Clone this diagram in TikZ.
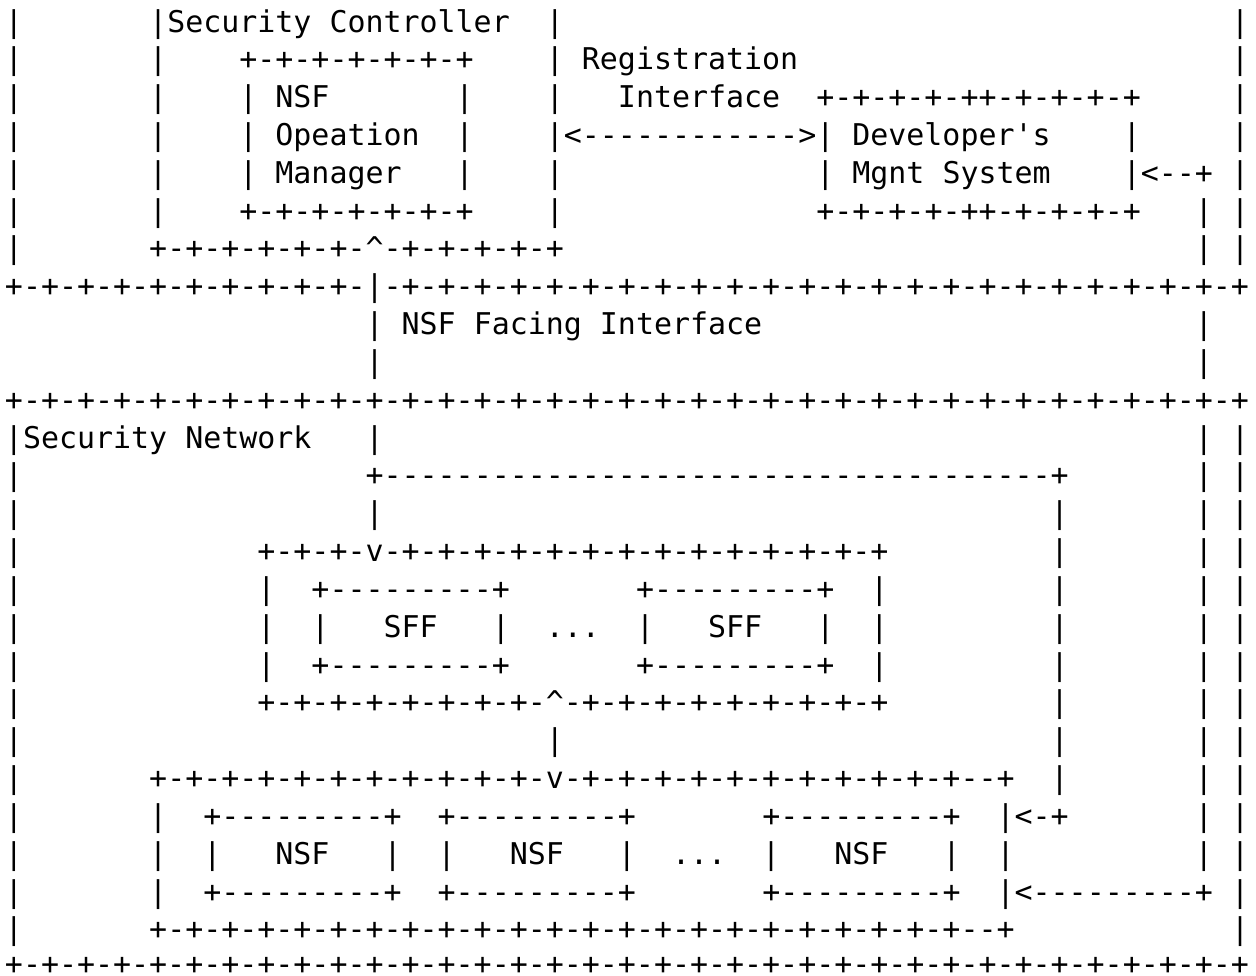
\documentclass[tikz,border=0pt]{standalone}
\usepackage{fontspec}
\setmonofont{DejaVu Sans Mono}
\ExplSyntaxOn
\cs_new_eq:NN \reptok \prg_replicate:nn
\ExplSyntaxOff
% blank run of #1 character cells
\newcommand\sk[1]{\kern#1\fontcharwd\font`M\relax}
\tikzset{
  asciirow/.style={anchor=base west, inner sep=0pt, outer sep=0pt, text=black,
    font=\ttfamily\fontsize{14.974pt}{18.915pt}\selectfont\frenchspacing},
}
\begin{document}
\begin{tikzpicture}
\fill[white] (0,0) rectangle (628pt,-487.5pt);
\useasboundingbox (0,0) rectangle (628pt,-487.5pt);
% one node per text line of the figure, baselines 18.915pt apart
\node[asciirow] (r1)  at (2.49pt,-16.000pt) {|\sk{7}|Security Controller\sk{2}|\sk{37}|};
\node[asciirow] (r2)  at (2.49pt,-34.915pt) {|\sk{7}|\sk{4}+-+-+-+-+-+-+\sk{4}|\sk{1}Registration\sk{24}|};
\node[asciirow] (r3)  at (2.49pt,-53.830pt) {|\sk{7}|\sk{4}|\sk{1}NSF\sk{7}|\sk{4}|\sk{3}Interface\sk{2}+-+-+-+-++-+-+-+-+\sk{5}|};
\node[asciirow] (r4)  at (2.49pt,-72.745pt) {|\sk{7}|\sk{4}|\sk{1}Opeation\sk{2}|\sk{4}|<\reptok{12}{-}>|\sk{1}Developer's\sk{4}|\sk{5}|};
\node[asciirow] (r5)  at (2.49pt,-91.660pt) {|\sk{7}|\sk{4}|\sk{1}Manager\sk{3}|\sk{4}|\sk{14}|\sk{1}Mgnt System\sk{4}|<\reptok{2}{-}+\sk{1}|};
\node[asciirow] (r6)  at (2.49pt,-110.575pt) {|\sk{7}|\sk{4}+-+-+-+-+-+-+\sk{4}|\sk{14}+-+-+-+-++-+-+-+-+\sk{3}|\sk{1}|};
\node[asciirow] (r7)  at (2.49pt,-129.490pt) {|\sk{7}\reptok{6}{+-}\textasciicircum\reptok{5}{-+}\sk{35}|\sk{1}|};
\node[asciirow] (r8)  at (2.49pt,-148.405pt) {\reptok{10}{+-}|\reptok{24}{-+}};
\node[asciirow] (r9)  at (2.49pt,-167.320pt) {\sk{20}|\sk{1}NSF Facing Interface\sk{24}|};
\node[asciirow] (r10) at (2.49pt,-186.235pt) {\sk{20}|\sk{45}|};
\node[asciirow] (r11) at (2.49pt,-205.150pt) {\reptok{34}{+-}+};
\node[asciirow] (r12) at (2.49pt,-224.065pt) {|Security Network\sk{3}|\sk{45}|\sk{1}|};
\node[asciirow] (r13) at (2.49pt,-242.980pt) {|\sk{19}+\reptok{37}{-}+\sk{7}|\sk{1}|};
\node[asciirow] (r14) at (2.49pt,-261.895pt) {|\sk{19}|\sk{37}|\sk{7}|\sk{1}|};
\node[asciirow] (r15) at (2.49pt,-280.810pt) {|\sk{13}\reptok{3}{+-}v-\reptok{13}{+-}+\sk{9}|\sk{7}|\sk{1}|};
\node[asciirow] (r16) at (2.49pt,-299.725pt) {|\sk{13}|\sk{2}+\reptok{9}{-}+\sk{7}+\reptok{9}{-}+\sk{2}|\sk{9}|\sk{7}|\sk{1}|};
\node[asciirow] (r17) at (2.49pt,-318.640pt) {|\sk{13}|\sk{2}|\sk{3}SFF\sk{3}|\sk{2}...\sk{2}|\sk{3}SFF\sk{3}|\sk{2}|\sk{9}|\sk{7}|\sk{1}|};
\node[asciirow] (r18) at (2.49pt,-337.555pt) {|\sk{13}|\sk{2}+\reptok{9}{-}+\sk{7}+\reptok{9}{-}+\sk{2}|\sk{9}|\sk{7}|\sk{1}|};
\node[asciirow] (r19) at (2.49pt,-356.470pt) {|\sk{13}\reptok{8}{+-}\textasciicircum\reptok{9}{-+}\sk{9}|\sk{7}|\sk{1}|};
\node[asciirow] (r20) at (2.49pt,-375.385pt) {|\sk{29}|\sk{27}|\sk{7}|\sk{1}|};
\node[asciirow] (r21) at (2.49pt,-394.300pt) {|\sk{7}\reptok{11}{+-}v\reptok{11}{-+}\reptok{2}{-}+\sk{2}|\sk{7}|\sk{1}|};
\node[asciirow] (r22) at (2.49pt,-413.215pt) {|\sk{7}|\sk{2}+\reptok{9}{-}+\sk{2}+\reptok{9}{-}+\sk{7}+\reptok{9}{-}+\sk{2}|<-+\sk{7}|\sk{1}|};
\node[asciirow] (r23) at (2.49pt,-432.130pt) {|\sk{7}|\sk{2}|\sk{3}NSF\sk{3}|\sk{2}|\sk{3}NSF\sk{3}|\sk{2}...\sk{2}|\sk{3}NSF\sk{3}|\sk{2}|\sk{10}|\sk{1}|};
\node[asciirow] (r24) at (2.49pt,-451.045pt) {|\sk{7}|\sk{2}+\reptok{9}{-}+\sk{2}+\reptok{9}{-}+\sk{7}+\reptok{9}{-}+\sk{2}|<\reptok{9}{-}+\sk{1}|};
\node[asciirow] (r25) at (2.49pt,-469.960pt) {|\sk{7}\reptok{23}{+-}-+\sk{12}|};
\node[asciirow] (r26) at (2.49pt,-487.200pt) {\reptok{34}{+-}+};
\end{tikzpicture}
\end{document}
